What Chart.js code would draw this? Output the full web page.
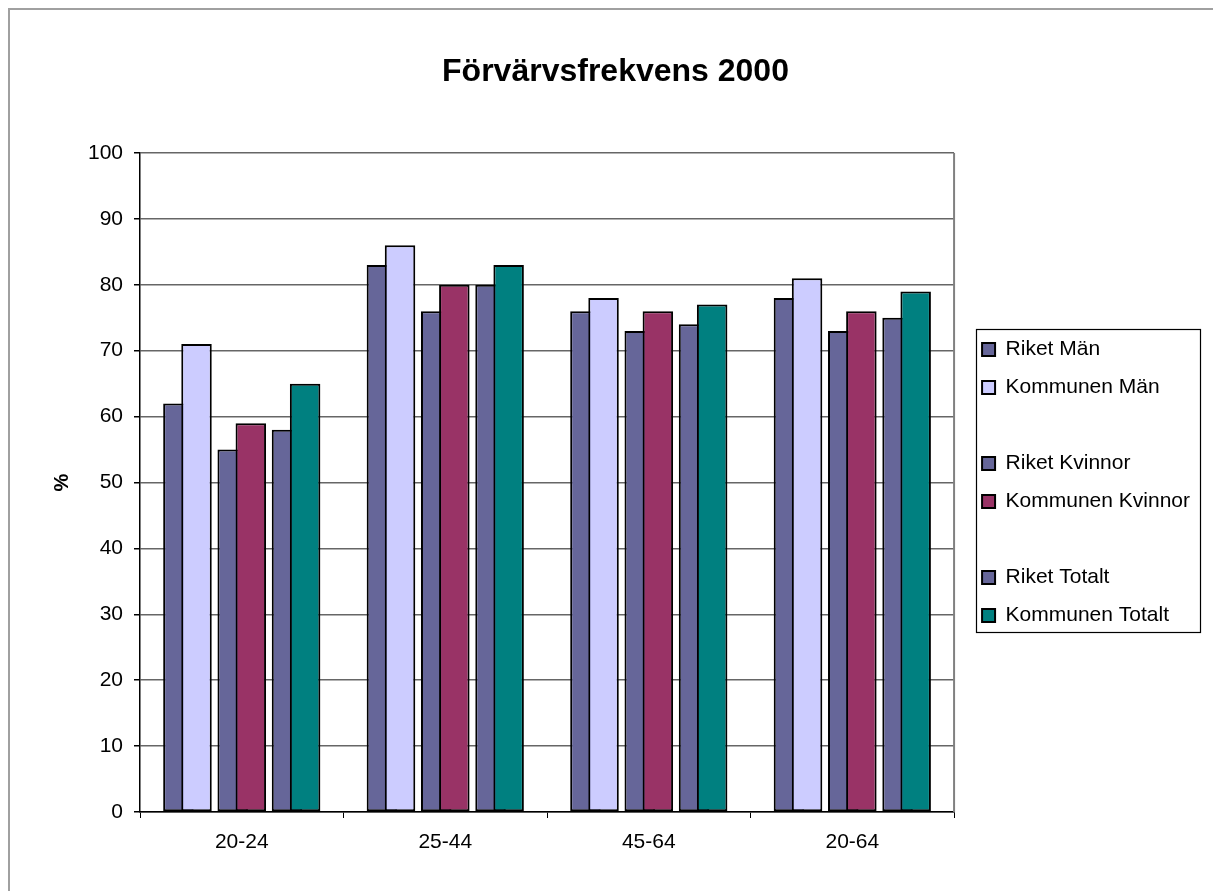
<!DOCTYPE html>
<html><head><meta charset="utf-8">
<script src="https://cdn.jsdelivr.net/npm/chart.js@4.4.1/dist/chart.umd.min.js"></script>
<style>html,body{margin:0;padding:0;background:#fff}#wrap{position:relative;width:1213px;height:891px}</style>
</head><body><div id="wrap"><canvas id="c"></canvas></div>
<script>
const categories = ['20-24', '25-44', '45-64', '20-64'];
const riketMan = [62, 83, 76, 78];
const kommunenMan = [71, 86, 78, 81];
const riketKvinnor = [55, 76, 73, 73];
const kommunenKvinnor = [59, 80, 76, 76];
const riketTotalt = [58, 80, 74, 75];
const kommunenTotalt = [65, 83, 77, 79];
const blank = [null, null, null, null];
const yMin = 0, yMax = 100, yStep = 10;
const titleText = 'Förvärvsfrekvens 2000';
const yTitle = '%';

const FONT = "'Liberation Sans', Arial, sans-serif";
Chart.defaults.font.family = FONT;
Chart.defaults.color = '#000';

function ds(label, data, color) {
  return {
    label, data,
    backgroundColor: color,
    borderColor: color === 'transparent' ? 'transparent' : '#000',
    borderWidth: 2,
    borderSkipped: false,
    categoryPercentage: 0.7115,
    barPercentage: 1.685
  };
}

const drawOrder = {
  id: 'drawOrder',
  beforeDatasetsDraw(chart) {
    const metas = chart.getSortedVisibleDatasetMetas();
    for (let i = 0; i < metas.length; i++) chart._drawDataset(metas[i]);
    return false;
  }
};

const adjust = {
  id: 'adjust',
  afterLayout(chart) {
    const tb = chart.titleBlock;
    if (tb) { tb.left = 18; tb.right = 1213; }
    const lg = chart.legend;
    if (lg) { lg.left += 11; lg.right += 40; lg.top += 46.5; lg.bottom += 46.5; }
  }
};

const frame = {
  id: 'frame',
  beforeDraw(chart) {
    const ctx = chart.ctx;
    ctx.save();
    ctx.fillStyle = '#fff';
    ctx.fillRect(0, 0, chart.width, chart.height);
    ctx.strokeStyle = '#a0a0a0';
    ctx.lineWidth = 2;
    ctx.beginPath();
    ctx.moveTo(9, chart.height);
    ctx.lineTo(9, 9);
    ctx.lineTo(chart.width, 9);
    ctx.stroke();
    ctx.restore();
  },
  afterDraw(chart) {
    const ctx = chart.ctx, a = chart.chartArea;
    ctx.save();
    ctx.strokeStyle = '#808080';
    ctx.lineWidth = 2;
    ctx.beginPath();
    ctx.moveTo(a.right, a.top);
    ctx.lineTo(a.right, a.bottom);
    ctx.stroke();
    ctx.strokeStyle = '#000';
    ctx.lineWidth = 1.2;
    ctx.strokeRect(976.5, 329.5, 224, 303);
    ctx.restore();
  }
};

new Chart(document.getElementById('c'), {
  type: 'bar',
  data: {
    labels: categories,
    datasets: [
      ds('Riket Män', riketMan, '#666699'),
      ds('Kommunen Män', kommunenMan, '#CCCCFF'),
      ds('', blank, 'transparent'),
      ds('Riket Kvinnor', riketKvinnor, '#666699'),
      ds('Kommunen Kvinnor', kommunenKvinnor, '#993366'),
      ds('', blank, 'transparent'),
      ds('Riket Totalt', riketTotalt, '#666699'),
      ds('Kommunen Totalt', kommunenTotalt, '#008080')
    ]
  },
  options: {
    responsive: true,
    maintainAspectRatio: false,
    animation: false,
    events: [],
    devicePixelRatio: 1,
    layout: { padding: { left: 18, right: 24, top: 0, bottom: 19 } },
    plugins: {
      title: {
        display: true,
        text: titleText,
        color: '#000',
        font: { family: FONT, size: 32, weight: 'bold' },
        padding: { top: 53, bottom: 61.6 }
      },
      legend: {
        position: 'right',
        align: 'center',
        labels: {
          font: { family: FONT, size: 21 },
          color: '#000',
          boxWidth: 13,
          boxHeight: 13,
          padding: 17
        }
      },
      tooltip: { enabled: false }
    },
    scales: {
      x: {
        grid: { display: true, drawOnChartArea: false, tickLength: 6, tickColor: '#000', offset: true },
        border: { display: true, color: '#000', width: 1.5 },
        ticks: { font: { family: FONT, size: 21 }, color: '#000', padding: 12, maxRotation: 0 },
        afterFit(scale) { scale.height = 60; }
      },
      y: {
        min: yMin, max: yMax,
        ticks: { stepSize: yStep, font: { family: FONT, size: 21 }, color: '#000', padding: 11 },
        grid: { color: '#666', lineWidth: 1.5, tickLength: 6, tickColor: '#000' },
        border: { display: true, color: '#000', width: 1.5 },
        title: { display: true, text: yTitle, font: { family: FONT, size: 20, weight: 'bold' }, color: '#000', padding: { top: 32, bottom: 0 } },
        afterFit(scale) { scale.width = 122; }
      }
    }
  },
  plugins: [drawOrder, adjust, frame]
});
</script>
</body></html>
